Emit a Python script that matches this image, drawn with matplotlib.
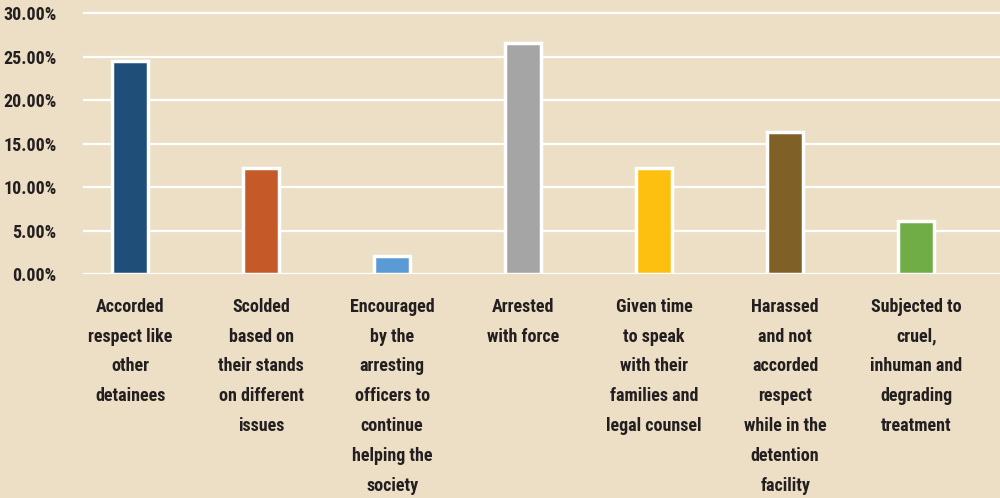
import matplotlib
matplotlib.use("Agg")
import matplotlib.pyplot as plt
from matplotlib import font_manager as fm
import os

categories = [
    "Accorded\nrespect like\nother\ndetainees",
    "Scolded\nbased on\ntheir stands\non different\nissues",
    "Encouraged\nby the\narresting\nofficers to\ncontinue\nhelping the\nsociety",
    "Arrested\nwith force",
    "Given time\nto speak\nwith their\nfamilies and\nlegal counsel",
    "Harassed\nand not\naccorded\nrespect\nwhile in the\ndetention\nfacility",
    "Subjected to\ncruel,\ninhuman and\ndegrading\ntreatment",
]
values = [24.49, 12.24, 2.04, 26.53, 12.24, 16.33, 6.12]
colors = ["#1F4E79", "#C55A28", "#5B9BD5", "#A5A5A5", "#FDC010", "#7F6128", "#70AD47"]
yticks = [0, 5, 10, 15, 20, 25, 30]

# pick a condensed bold font if available
prefs = ["liberationsansnarrow-bold.ttf", "robotocondensed-bold.ttf",
         "opensans_condensed-bold.ttf", "opensanscondensed-bold.ttf",
         "dejavusanscondensed-bold.ttf"]
files = {os.path.basename(f.fname).lower(): f.fname for f in fm.fontManager.ttflist}
fpath = None
for p in prefs:
    if p in files:
        fpath = files[p]
        break
if fpath:
    fp = fm.FontProperties(fname=fpath, size=13)
else:
    fp = fm.FontProperties(family="DejaVu Sans", weight="bold", stretch="condensed", size=13)

bg = "#EDDFC5"
txt = "#231F20"

fig = plt.figure(figsize=(10, 4.98), dpi=100, facecolor=bg)
ax = fig.add_axes([0.083, 0.4498, 0.917, 0.5293])
ax.set_facecolor(bg)

x = list(range(len(values)))
ax.bar(x, values, width=0.27, color=colors, edgecolor="white", linewidth=2.5, zorder=3)

ax.set_ylim(0, 30.3)
ax.set_xlim(-0.36, 6.64)
ax.set_yticks(yticks)
ax.set_yticklabels([f"{v:.2f}%" for v in yticks], fontproperties=fp, color=txt)
ax.yaxis.grid(True, color="white", linewidth=1.6, zorder=0)
ax.set_axisbelow(True)
ax.tick_params(axis="y", length=0, pad=19)
ax.tick_params(axis="x", length=0)
ax.set_xticks([])
for s in ax.spines.values():
    s.set_visible(False)

for i, lab in enumerate(categories):
    ax.annotate(lab, xy=(i, 0), xycoords="data", xytext=(0, -17), textcoords="offset points",
                ha="center", va="top", fontproperties=fp,
                color=txt, linespacing=1.85, annotation_clip=False)

fig.savefig("out.png", dpi=100, facecolor=bg)
